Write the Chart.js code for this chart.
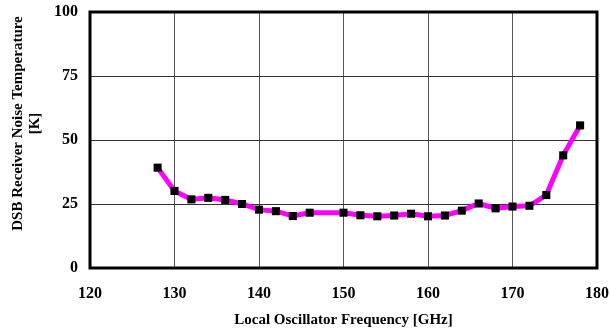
<!DOCTYPE html>
<html>
<head>
<meta charset="utf-8">
<title>DSB Receiver Noise Temperature</title>
<script src="https://cdn.jsdelivr.net/npm/chart.js@4.4.1/dist/chart.umd.min.js"></script>
<style>
  html, body { margin: 0; padding: 0; background: #fff; }
  #wrap { width: 610px; height: 333px; }
</style>
</head>
<body>
<div id="wrap"><canvas id="noiseChart" width="610" height="333"></canvas></div>
<script>
// LO frequency [GHz] and DSB receiver noise temperature [K]
const freqs = [128, 130, 132, 134, 136, 138, 140, 142, 144, 146, 150, 152, 154,
               156, 158, 160, 162, 164, 166, 168, 170, 172, 174, 176, 178];
const temps = [39.2, 30.1, 26.8, 27.4, 26.6, 25.0, 22.8, 22.2, 20.3, 21.6, 21.6, 20.6, 20.2,
               20.5, 21.2, 20.2, 20.5, 22.4, 25.2, 23.3, 24.0, 24.3, 28.5, 44.0, 55.7];

const xTitle = 'Local Oscillator Frequency [GHz]';
const yTitleLines = ['DSB Receiver Noise Temperature', '[K]'];

const serif = '"Liberation Serif", "Times New Roman", serif';

// thick black frame around the plot area
const framePlugin = {
  id: 'frame',
  beforeDatasetsDraw(chart) {
    const { ctx, chartArea: a } = chart;
    ctx.save();
    ctx.strokeStyle = '#000';
    ctx.lineWidth = 3;
    ctx.strokeRect(a.left, a.top, a.right - a.left, a.bottom - a.top);
    ctx.restore();
  }
};

// y title sits a bit above the plot centre in the original, so draw it by hand
const yTitlePlugin = {
  id: 'yTitle',
  afterDraw(chart) {
    const { ctx } = chart;
    ctx.save();
    ctx.fillStyle = '#000';
    ctx.font = 'bold 15px ' + serif;
    ctx.textAlign = 'center';
    ctx.textBaseline = 'middle';
    yTitleLines.forEach((line, i) => {
      ctx.save();
      ctx.translate(18 + i * 17.5, 123.5);
      ctx.rotate(-Math.PI / 2);
      ctx.fillText(line, 0, 0);
      ctx.restore();
    });
    ctx.restore();
  }
};

// stop the edge tick labels from pushing the plot area inwards
function noLabelPadding(scale) {
  scale.paddingTop = 0;
  scale.paddingBottom = 0;
  scale.paddingLeft = 0;
  scale.paddingRight = 0;
}

new Chart(document.getElementById('noiseChart'), {
  type: 'line',
  data: {
    datasets: [{
      data: freqs.map((f, i) => ({ x: f, y: temps[i] })),
      borderColor: '#ff00ff',
      borderWidth: 5,
      pointStyle: 'rect',
      pointRadius: 5.7,
      pointBackgroundColor: '#000',
      pointBorderColor: '#000',
      pointBorderWidth: 0,
      tension: 0
    }]
  },
  options: {
    responsive: false,
    animation: false,
    layout: { padding: { top: 12, right: 13, left: 0, bottom: 0 } },
    plugins: {
      legend: { display: false },
      tooltip: { enabled: false }
    },
    scales: {
      x: {
        type: 'linear',
        min: 120,
        max: 180,
        ticks: {
          stepSize: 10,
          color: '#000',
          padding: 16,
          font: { family: serif, size: 16, weight: 'bold' }
        },
        grid: { color: '#555', lineWidth: 1, drawTicks: false },
        border: { display: false },
        title: {
          display: true,
          text: xTitle,
          color: '#000',
          padding: { top: 4, bottom: 4 },
          font: { family: serif, size: 15, weight: 'bold' }
        },
        afterFit(scale) { scale.height = 65; noLabelPadding(scale); }
      },
      y: {
        min: 0,
        max: 100,
        ticks: {
          stepSize: 25,
          color: '#000',
          padding: 12,
          font: { family: serif, size: 16, weight: 'bold' }
        },
        grid: { color: '#333', lineWidth: 1, drawTicks: false },
        border: { display: false },
        afterFit(scale) { scale.width = 90; noLabelPadding(scale); }
      }
    }
  },
  plugins: [framePlugin, yTitlePlugin]
});
</script>
</body>
</html>
